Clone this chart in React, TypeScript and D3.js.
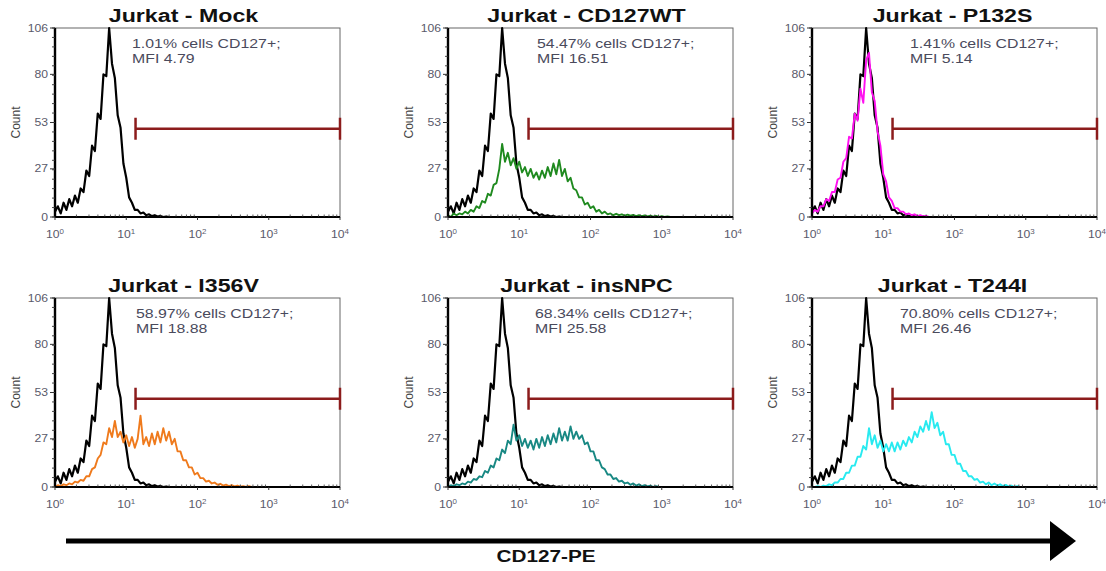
import React from 'react';
import * as d3 from 'd3';

// histogram bins are spaced 0.04 decades apart, starting at 10^0
const BIN = 0.04;

const titles = ['Jurkat - Mock', 'Jurkat - CD127WT', 'Jurkat - P132S', 'Jurkat - I356V', 'Jurkat - insNPC', 'Jurkat - T244I'];
const pctPositive = ['1.01', '54.47', '1.41', '58.97', '68.34', '70.80'];
const mfiValues = ['4.79', '16.51', '5.14', '18.88', '25.58', '26.46'];

const yTicks = [0, 27, 53, 80, 106];
const xDecades = [0, 1, 2, 3, 4];
const gateFrom = 13.5;
const gateTo = 10000;
const gateCount = 49.5;

// unstained / control overlay (black), same in every panel
const controlCounts = [3, 6, 2, 8, 4, 10, 6, 12, 8, 16, 14, 26, 23, 40, 37, 58, 55, 80, 79, 106, 86, 78, 57, 50, 30, 22, 11, 8, 4, 4, 2, 2.5, 1, 1.5, 0.5, 1, 0.3, 0.6, 0, 0.3, 0];

const wtCounts = [1, 0, 2, 1, 2, 1.5, 3, 2, 4, 3, 6, 5, 9, 8, 13, 12, 18, 19, 27, 41, 31, 36, 29, 33, 27, 31, 25, 28, 23, 27, 22, 25, 21, 26, 22, 28, 23, 30, 24, 32, 23, 27, 20, 22, 16, 15, 11, 11, 7, 8, 5, 6, 3, 4, 2, 3, 1.5, 2, 1, 1.8, 1, 1.5, 0.8, 1.3, 0.7, 1.2, 0.5, 1, 0.5, 0.9, 0.3, 0.7, 0.2, 0.6, 0, 0.5, 0, 0.3, 0];

const p132sCounts = [2, 4, 3, 6, 6, 10, 9, 14, 14, 21, 22, 31, 33, 45, 44, 58, 54, 72, 64, 88, 92, 70, 65, 48, 40, 24, 20, 11, 9, 5, 5, 3, 3, 1.5, 2, 1, 1.5, 0.5, 1, 0.3, 0.6, 0];

const i356vCounts = [0, 1, 0.5, 1.5, 1, 2, 1.5, 3, 2.5, 4, 3.5, 6, 6, 10, 11, 16, 18, 25, 24, 33, 28, 37, 28, 31, 25, 29, 23, 28, 22, 27, 40, 24, 28, 23, 30, 24, 31, 25, 33, 26, 31, 24, 27, 20, 20, 15, 15, 11, 11, 7, 8, 5, 5, 3, 3.5, 2, 2.5, 1.2, 1.8, 0.8, 1.3, 0.5, 1, 0.3, 0.8, 0.2, 0.5, 0, 0.4, 0];

const insNpcCounts = [0, 1, 0.5, 1.5, 1, 2, 1.5, 3, 2.5, 4.5, 4, 6, 5.5, 9, 8, 12, 11, 16, 15, 21, 19, 26, 24, 35, 26, 29, 23, 27, 22, 26, 21, 27, 22, 28, 23, 29, 24, 30, 25, 33, 26, 31, 26, 34, 27, 31, 27, 29, 24, 25, 20, 20, 15, 15, 11, 10, 7, 7, 4.5, 5, 3, 3.5, 2, 2.5, 1.2, 2, 0.8, 1.5, 0.5, 1, 0.3, 0.8, 0, 0.5, 0];

const t244iCounts = [0, 0, 0.5, 0, 0.8, 0.5, 1.5, 1, 2.5, 2.5, 4.5, 4.5, 8, 8, 12, 12, 17, 17, 23, 21, 33, 24, 29, 22, 26, 20, 24, 20, 25, 20, 25, 21, 26, 23, 28, 25, 31, 28, 34, 31, 37, 32, 42, 33, 36, 29, 31, 24, 24, 18, 18, 13, 13, 9, 9, 6, 6, 4, 4.5, 2.5, 3, 1.5, 2.5, 1, 2, 0.8, 1.5, 0.5, 1.2, 0.3, 0.8, 0, 0.5, 0];

const sampleCounts = [null, wtCounts, p132sCounts, i356vCounts, insNpcCounts, t244iCounts];
const sampleColors = [null, '#1f8a1f', '#ff10f0', '#ef7a1c', '#188883', '#28eaf0'];

const W = 285;
const H = 189;
const colLefts = [55, 448, 812];
const rowTops = [28, 298];
const titleShift = [-14, -4, -2];
const annX = [77, 89, 98, 81, 87, 88];
const SX = 1.22; // the figure is stretched horizontally
const FONT = "Arial, 'Liberation Sans', sans-serif";
const GATE = '#8c1c1c';
const TICK_TXT = '#5a5a6a';

const Panel = ({ idx }: { idx: number }) => {
  const left = colLefts[idx % 3];
  const top = rowTops[Math.floor(idx / 3)];
  const x = d3.scaleLog().domain([1, 1e4]).range([0, W]);
  const y = d3.scaleLinear().domain([0, 106]).range([H, 0]).clamp(true);
  const line = d3.line<number>()
    .x((_, i) => x(Math.pow(10, i * BIN)))
    .y(d => y(d));

  const minorX = x.ticks().filter(t => !xDecades.some(k => Math.abs(Math.log10(t) - k) < 1e-9));
  const minorY = d3.range(0, 106.01, 106 / 20);
  const sample = sampleCounts[idx];

  return (
    <g transform={`translate(${left},${top})`} fontFamily={FONT}>
      <text transform={`translate(${W / 2 + titleShift[idx % 3]},-6) scale(${SX},1)`} textAnchor="middle"
        fontSize={19} fontWeight="bold" fill="#111">{titles[idx]}</text>

      <rect x={0} y={0} width={W} height={H} fill="none" stroke="#666" strokeWidth={1} />

      {/* histograms */}
      <path d={line(controlCounts) || ''} fill="none" stroke="#000" strokeWidth={2.2} strokeLinejoin="round" />
      {sample && (
        <path d={line(sample) || ''} fill="none" stroke={sampleColors[idx] as string} strokeWidth={1.9} strokeLinejoin="round" />
      )}

      {/* gate */}
      <g stroke={GATE} strokeWidth={2.5}>
        <line x1={x(gateFrom)} x2={x(gateTo)} y1={y(gateCount)} y2={y(gateCount)} />
        <line x1={x(gateFrom)} x2={x(gateFrom)} y1={y(gateCount) - 11} y2={y(gateCount) + 11} />
        <line x1={x(gateTo)} x2={x(gateTo)} y1={y(gateCount) - 11} y2={y(gateCount) + 11} />
      </g>

      <g fill="#4a4a5c" fontSize={13}>
        <text transform={`translate(${annX[idx]},20) scale(${SX},1)`}>{pctPositive[idx]}% cells CD127+;</text>
        <text transform={`translate(${annX[idx]},35) scale(${SX},1)`}>MFI {mfiValues[idx]}</text>
      </g>

      {/* axes */}
      <line x1={0} x2={0} y1={0} y2={H} stroke="#000" strokeWidth={2.4} />
      <line x1={0} x2={W} y1={H} y2={H} stroke="#000" strokeWidth={1.8} />
      {minorY.map((t, i) => (
        <line key={'my' + i} x1={-3} x2={0} y1={y(t)} y2={y(t)} stroke="#333" strokeWidth={0.9} />
      ))}
      {yTicks.map(t => (
        <g key={'y' + t}>
          <line x1={-5} x2={0} y1={y(t)} y2={y(t)} stroke="#333" strokeWidth={1} />
          <text transform={`translate(-7,${y(t) + 3.5}) scale(${SX},1)`} textAnchor="end" fontSize={10} fill={TICK_TXT}>{t}</text>
        </g>
      ))}
      {minorX.map((t, i) => (
        <line key={'mx' + i} x1={x(t)} x2={x(t)} y1={H} y2={H - 2.5} stroke="#333" strokeWidth={0.8} />
      ))}
      {xDecades.map(k => (
        <g key={'x' + k}>
          <line x1={x(Math.pow(10, k))} x2={x(Math.pow(10, k))} y1={H} y2={H + 3} stroke="#333" strokeWidth={1} />
          <text transform={`translate(${x(Math.pow(10, k))},${H + 21}) scale(${SX},1)`} textAnchor="middle" fontSize={10} fill={TICK_TXT}>
            10<tspan dy={-4} fontSize={6.5}>{k}</tspan>
          </text>
        </g>
      ))}
      <text transform={`translate(-35,${H / 2}) rotate(-90)`} textAnchor="middle" fontSize={12} fill="#444">Count</text>
    </g>
  );
};

const App = () => {
  return (
    <svg width={1106} height={571} style={{ position: 'absolute', left: 0, top: 0, background: '#fff' }}>
      <rect width={1106} height={571} fill="#fff" />
      {titles.map((_, i) => <Panel key={i} idx={i} />)}
      <line x1={66} x2={1054} y1={541} y2={541} stroke="#000" strokeWidth={5} />
      <polygon points="1050,521 1076,541 1050,561" fill="#000" />
      <text transform={`translate(546,562) scale(${SX},1)`} textAnchor="middle" fontFamily={FONT} fontSize={17} fontWeight="bold" fill="#111">CD127-PE</text>
    </svg>
  );
};

export default App;
